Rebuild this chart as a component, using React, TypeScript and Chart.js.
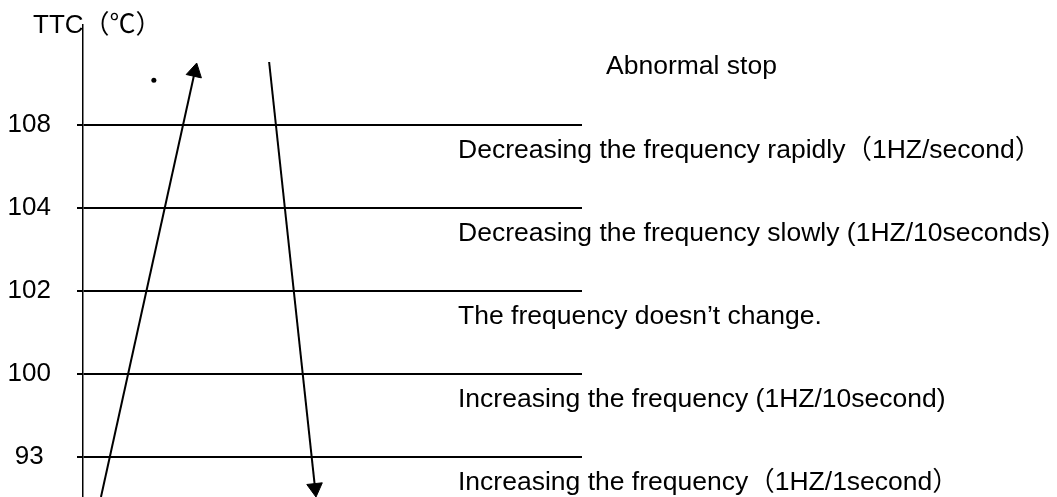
import React, { useEffect, useRef } from "react";
import { Chart, registerables } from "chart.js";

Chart.register(...registerables);

// Temperature thresholds (tick labels), bottom to top
const levels: string[] = ["93", "100", "102", "104", "108"];
// Zone descriptions, one below each threshold line (same order as levels)
const zoneLabels: string[] = [
  "Increasing the frequency（1HZ/1second）",
  "Increasing the frequency (1HZ/10second)",
  "The frequency doesn’t change.",
  "Decreasing the frequency slowly (1HZ/10seconds)",
  "Decreasing the frequency rapidly（1HZ/second）",
];
const topZoneLabel = "Abnormal stop";
const axisTitle = "TTC（℃）";

// Rising temperature path (x: time units, y: threshold index)
const riseX: number[] = [3.6, 22.4];
const riseY: number[] = [-0.482, 4.641];
// Falling temperature path
const fallX: number[] = [37.3, 46.5];
const fallY: number[] = [4.759, -0.375];
// Isolated marker dot
const dotX: number[] = [14.2];
const dotY: number[] = [4.54];

const FONT = '"Liberation Sans", Arial, "Noto Sans CJK SC", sans-serif';

function toPoints(xs: number[], ys: number[]) {
  return xs.map((x, i) => ({ x, y: ys[i] }));
}

function arrowRotation(c: any) {
  const d = c.dataset.data;
  const xs = c.chart.scales.x;
  const ys = c.chart.scales.y;
  if (!xs || !ys || d.length < 2) return 0;
  const a = d[d.length - 2];
  const b = d[d.length - 1];
  const dx = xs.getPixelForValue(b.x) - xs.getPixelForValue(a.x);
  const dy = ys.getPixelForValue(b.y) - ys.getPixelForValue(a.y);
  return (Math.atan2(dx, -dy) * 180) / Math.PI;
}

const textPlugin = {
  id: "zoneText",
  afterDraw(chart: any) {
    const ctx = chart.ctx;
    const y = chart.scales.y;
    ctx.save();
    ctx.fillStyle = "#000";
    ctx.textAlign = "left";
    ctx.textBaseline = "alphabetic";
    ctx.font = `26.5px ${FONT}`;
    zoneLabels.forEach((label, i) => {
      ctx.fillText(label, 458, y.getPixelForValue(i) + 33);
    });
    ctx.fillText(topZoneLabel, 606, y.getPixelForValue(levels.length - 1) - 51);
    ctx.font = `26px ${FONT}`;
    ctx.fillText(axisTitle, 33, 33);
    ctx.restore();
  },
};

export default function App() {
  const ref = useRef<HTMLCanvasElement | null>(null);

  useEffect(() => {
    document.body.style.margin = "0";
    const canvas = ref.current;
    if (!canvas) return;
    const arrowCommon = {
      showLine: true,
      borderColor: "#000",
      borderWidth: 2,
      pointStyle: "triangle",
      pointRadius: [0, 9],
      pointRotation: arrowRotation,
      pointBackgroundColor: "#000",
      pointBorderColor: "#000",
      pointBorderWidth: 1,
      clip: false as any,
    };
    const chart = new Chart(canvas, {
      type: "scatter",
      data: {
        datasets: [
          { label: "rise", data: toPoints(riseX, riseY), ...arrowCommon } as any,
          { label: "fall", data: toPoints(fallX, fallY), ...arrowCommon } as any,
          {
            label: "dot",
            data: toPoints(dotX, dotY),
            pointStyle: "circle",
            pointRadius: 2.5,
            pointBackgroundColor: "#000",
            pointBorderColor: "#000",
            pointBorderWidth: 0,
            clip: false,
          } as any,
        ],
      },
      options: {
        animation: false,
        responsive: false,
        devicePixelRatio: 1,
        events: [],
        layout: { autoPadding: false, padding: { left: 0, top: 25, right: 475, bottom: 0 } },
        plugins: {
          legend: { display: false },
          title: { display: false },
          tooltip: { enabled: false },
        },
        scales: {
          x: { type: "linear", min: 0, max: 100, display: false },
          y: {
            type: "linear",
            min: -0.482,
            max: 5.205,
            afterBuildTicks: (axis: any) => {
              axis.ticks = levels.map((_, i) => ({ value: i }));
            },
            afterFit: (s: any) => {
              s.width = 83;
              s.paddingTop = 0;
              s.paddingBottom = 0;
            },
            ticks: {
              callback: (_v: any, i: number) => levels[i],
              color: "#000",
              font: { size: 26, family: FONT },
              padding: 26,
              crossAlign: "center",
            },
            grid: { color: "#000", lineWidth: 2, tickLength: 6, drawTicks: true },
            border: { display: true, color: "#000", width: 1.5 },
          } as any,
        },
      },
      plugins: [textPlugin],
    });
    return () => chart.destroy();
  }, []);

  return (
    <div style={{ position: "fixed", left: 0, top: 0, width: 1057, height: 497, background: "#fff" }}>
      <canvas ref={ref} width={1057} height={497} style={{ width: 1057, height: 497, display: "block" }} />
    </div>
  );
}
